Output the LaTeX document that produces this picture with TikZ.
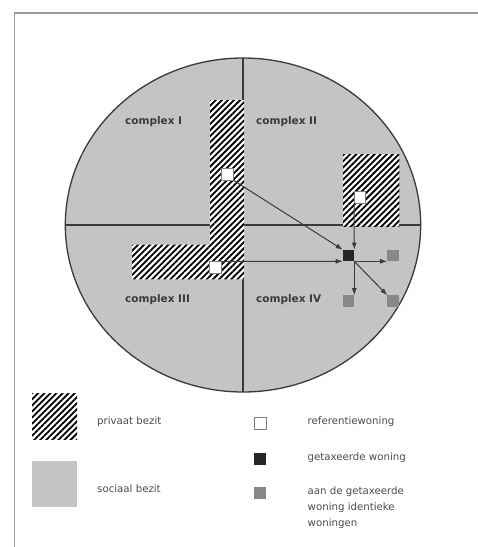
\documentclass[tikz,border=0pt]{standalone}
\usepackage{fontspec}
\setmainfont{DejaVu Sans}
\usetikzlibrary{positioning, arrows.meta, patterns.meta}
\definecolor{socialgray}{HTML}{C4C4C4}
\definecolor{linegray}{HTML}{3A3A3A}
\definecolor{framegray}{HTML}{9A9A9A}
\definecolor{samegray}{HTML}{888888}
\definecolor{targetblack}{HTML}{262626}
\definecolor{textgray}{HTML}{4A4A4A}
\tikzset{
  % Map
  quadline/.style    = { line width=1.3pt, linegray },
  privatearea/.style = { preaction={fill=white}, pattern color=black,
                          pattern={Lines[angle=45, distance=4.3pt, line width=1.8pt]} },
  complexlabel/.style= { anchor=west, inner sep=0, font=\fontsize{10.5}{12}\selectfont\bfseries,
                          text=linegray },
  % Houses
  house/.style       = { minimum size=11.6pt, inner sep=0, outer sep=0 },
  refhouse/.style    = { house, draw=gray, line width=0.6pt, fill=white },
  targethouse/.style = { house, fill=targetblack },
  samehouse/.style   = { house, fill=samegray },
  houseflow/.style   = { line width=1pt, linegray, -{Latex[length=7pt, width=5pt]} },
  % Legend
  legendkey/.style   = { minimum width=45pt, minimum height=46pt, inner sep=0 },
  legendtext/.style  = { anchor=west, inner sep=0, align=left, text=textgray,
                          font=\fontsize{10.2}{16}\selectfont }
}

\begin{document}
\begin{tikzpicture}[x=1pt, y=-1pt]

  \useasboundingbox (0,0) rectangle (478,547);
  \draw[framegray, line width=1.5pt] (478,13) -- (14.5,13) -- (14.5,547);

  % complexes
  \draw[quadline, fill=socialgray] (243,225) ellipse [x radius=177.7, y radius=167];
  \draw[quadline] (243,58) -- (243,392);
  \draw[quadline] (65.3,225) -- (420.7,225);

  \fill[privatearea] (210,100) -- (244,100) -- (244,279.3) -- (132,279.3)
                     -- (132,244.7) -- (210,244.7) -- cycle;
  \fill[privatearea] (343,154) rectangle (399.3,226);

  \node[complexlabel] (cI)   at (125,121.7) {complex I};
  \node[complexlabel] (cII)  at (256,121.7) {complex II};
  \node[complexlabel] (cIII) at (125,300)   {complex III};
  \node[complexlabel] (cIV)  at (256,300)   {complex IV};

  % houses
  \node[refhouse] (refI)   at (227.2,174.2) {};
  \node[refhouse] (refII)  at (359.8,197)   {};
  \node[refhouse] (refIII) at (215.5,267.3) {};
  \node[targethouse] (target) at (348.5,255.5) {};
  \node[samehouse] (sameE)  at (393,255.5) {};
  \node[samehouse] (sameS)  at (348.5,301) {};
  \node[samehouse] (sameSE) at (393,301)   {};

  \draw[houseflow] (refI.south east) -- (target.north west);
  \draw[houseflow] (refII.south west) -- (target.north east);
  \draw[houseflow] (refIII.north east) -- (target.south west);
  \draw[houseflow] (target.south east) -- (sameE.south west);
  \draw[houseflow] (target.south east) -- (sameS.north east);
  \draw[houseflow] (target.south east) -- (sameSE.north west);

  % legend
  \node[legendkey, privatearea] (privkey) at (54.5,416.3) {};
  \node[legendkey, fill=socialgray] (sockey) at (54.5,484.3) {};
  \node[legendtext] (privtext) at (97,421.7) {privaat bezit};
  \node[legendtext] (soctext)  at (97,489)   {sociaal bezit};

  \node[refhouse, minimum size=12pt] (refkey) at (260,423) {};
  \node[targethouse, minimum size=12pt] (targetkey) at (260,459) {};
  \node[samehouse, minimum size=12pt] (samekey) at (260,493) {};
  \node[legendtext] (reftext)    at (307.5,421.7) {referentiewoning};
  \node[legendtext] (targettext) at (307.5,457.3) {getaxeerde woning};
  \node[legendtext] (sametext)   at (307.5,507.8) {aan de getaxeerde\\woning identieke\\woningen};

\end{tikzpicture}
\end{document}
